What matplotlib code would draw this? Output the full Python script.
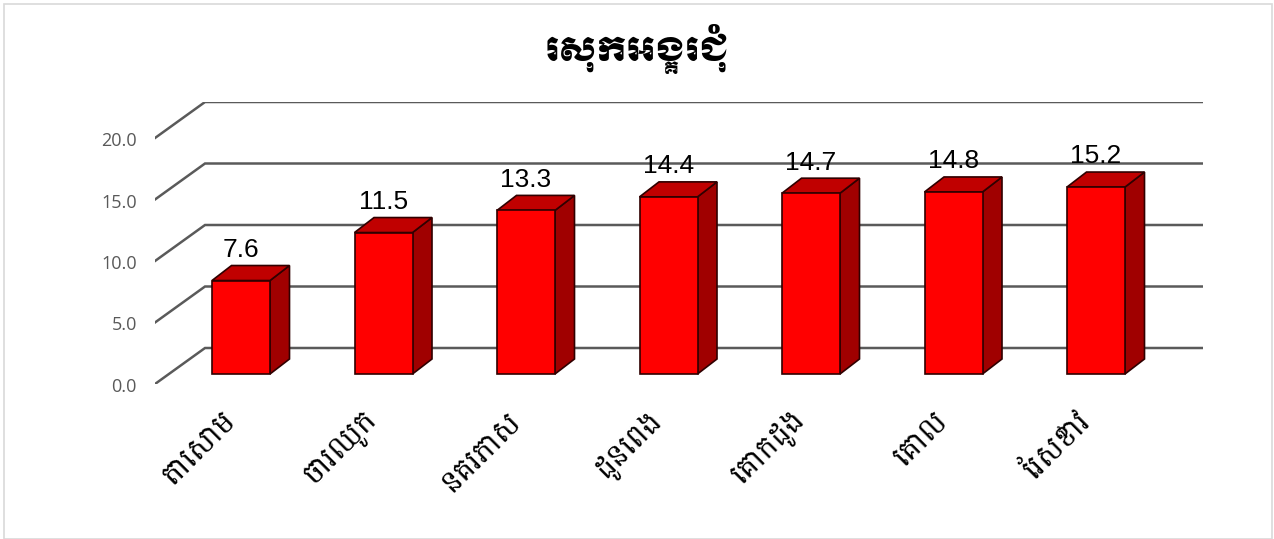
import math
import matplotlib
matplotlib.use('Agg')
import matplotlib.pyplot as plt
from matplotlib.font_manager import FontProperties
from matplotlib.patches import Polygon, Rectangle
from matplotlib.transforms import ScaledTranslation

W, H = 1274, 539

title = 'ស្រុកអង្គរជុំ'
communes = ['តាសោម', 'ចារឈូក', 'នគរភាស', 'ដូនពេង', 'គោកដូង', 'គោល', 'ស្រែខ្វាវ']
values = [7.6, 11.5, 13.3, 14.4, 14.7, 14.8, 15.2]
y_ticks = [0, 5, 10, 15, 20]

COENG = '\u17d2'
RO = '\u179a'
PRE_BASE = '\u17c1\u17c2\u17c3'
SPLIT = {'\u17c4': '\u17c1\u17b6', '\u17c5': '\u17c1\u17c5'}
CONSONANTS = range(0x1780, 0x17a3)


def visual_order(word):
    """matplotlib has no Khmer shaper, so lay the word out in drawing order.
    Returns the string to draw and the subscripts as (base index, letter)"""
    for k, v in SPLIT.items():
        word = word.replace(k, v)
    out, subs = '', []
    i = 0
    while i < len(word):
        if ord(word[i]) not in CONSONANTS:
            out += word[i]
            i += 1
            continue
        base, ro, below = word[i], '', []
        i += 1
        while word[i:i + 1] == COENG:
            if word[i + 1] == RO:
                ro = RO
            else:
                below.append(word[i + 1])
            i += 2
        pre = ''
        if word[i:i + 1] and word[i] in PRE_BASE:
            pre = word[i]
            i += 1
        out += pre + ro + base
        subs += [(len(out) - 1, b) for b in below]
    return out, subs


def add_subscripts(fig, main, subs, anchor, align, angle, family, size, scale=0.62, drop=0.12):
    """Small letters under their base, measured along the (rotated) baseline"""
    renderer = fig.canvas.get_renderer()
    prop = FontProperties(family=family, size=size)
    width = lambda s: renderer.get_text_width_height_descent(s, prop, False)[0]
    total = width(main)
    a = math.radians(angle)
    for idx, letter in subs:
        along = width(main[:idx + 1]) - width(main[idx]) / 2 - total * align
        down = size * drop
        px = anchor[0] + along * math.cos(a) + down * math.sin(a)
        py = anchor[1] + along * math.sin(a) - down * math.cos(a)
        fig.text(px / W, py / H, letter, family=family, fontsize=size * scale, rotation=angle,
                 rotation_mode='anchor', ha='center', va='top', color='black')


fig = plt.figure(figsize=(W / 100, H / 100), dpi=100)
fig.add_artist(Rectangle((4 / W, 0), (W - 6) / W, (H - 3.5) / H, transform=fig.transFigure,
                         fill=False, edgecolor='#d9d9d9', linewidth=1.2))

# axes box is the floor of the fake 3D chart, pixels from the reference
left, right, bottom, top = 155, 1203, 384, 102
ax = fig.add_axes([left / W, 1 - bottom / H, (right - left) / W, (bottom - top) / H])
px_x = 142.5   # pixels per category
px_y = 12.3    # pixels per unit
ax.set_xlim((left - 241) / px_x, (right - 241) / px_x)
ax.set_ylim((374 - bottom) / px_y, (374 - top) / px_y)
for s in ax.spines.values():
    s.set_visible(False)

front = (374 - 384) / px_y
back = (374 - 348) / px_y
x0, xb, x1 = ax.get_xlim()[0], (205 - 241) / px_x, ax.get_xlim()[1]
for v in y_ticks:
    ax.plot([x0, xb, x1], [v + front, v + back, v + back], color='#5a5a5a', lw=1.8,
            solid_joinstyle='miter', zorder=1)

x = list(range(len(values)))
bar_w = 58 / px_x
dx, dy = 19.5 / px_x, 15 / px_y
ax.bar(x, values, width=bar_w, color='#ff0000', edgecolor='#300000', linewidth=1.2, zorder=3)
for i, v in zip(x, values):
    l, r = i - bar_w / 2, i + bar_w / 2
    ax.add_patch(Polygon([(r, 0), (r + dx, dy), (r + dx, v + dy), (r, v)], closed=True,
                         facecolor='#a00000', edgecolor='#300000', linewidth=1.2, zorder=2))
    ax.add_patch(Polygon([(l, v), (l + dx, v + dy), (r + dx, v + dy), (r, v)], closed=True,
                         facecolor='#c00000', edgecolor='#300000', linewidth=1.2, zorder=2))
    ax.annotate(f'{v:.1f}', (i, v), xytext=(0, 17), textcoords='offset points', ha='center',
                va='baseline', fontsize=19, family=['Liberation Sans'], color='black', zorder=4)

ax.set_yticks([v + front for v in y_ticks])
ax.set_yticklabels([f'{v:.1f}' for v in y_ticks], fontsize=13, color='#595959',
                   family=['Open Sans'])
ax.tick_params(axis='y', length=0, pad=13)
for lab in ax.get_yticklabels():
    lab.set_transform(lab.get_transform() + ScaledTranslation(0, -1 / 100, fig.dpi_scale_trans))

label_font = 'Battambang'
label_size = 22
drawn = [visual_order(c) for c in communes]
ax.set_xticks(x)
ax.set_xticklabels([d[0] for d in drawn], rotation=45, ha='right', rotation_mode='anchor',
                   fontsize=label_size, family=[label_font, 'DejaVu Sans'])
ax.tick_params(axis='x', length=0, pad=15.5)
shift = ScaledTranslation(-21 / 100, 0, fig.dpi_scale_trans)
for lab in ax.get_xticklabels():
    lab.set_transform(lab.get_transform() + shift)

fig.canvas.draw()
for lab, (main, subs) in zip(ax.get_xticklabels(), drawn):
    anchor = lab.get_transform().transform(lab.get_position())
    add_subscripts(fig, main, subs, anchor, 1.0, 45, label_font, label_size)

title_font = 'Moul'
title_size = 24
main_title, title_subs = visual_order(title)
fig.text(637 / W, 1 - 61 / H, main_title, ha='center', va='baseline', fontsize=title_size,
         family=[title_font, 'DejaVu Sans'])
add_subscripts(fig, main_title, title_subs, (637, H - 61), 0.5, 0, title_font, title_size,
               scale=0.5, drop=0.02)

fig.savefig('out.png', dpi=100)
